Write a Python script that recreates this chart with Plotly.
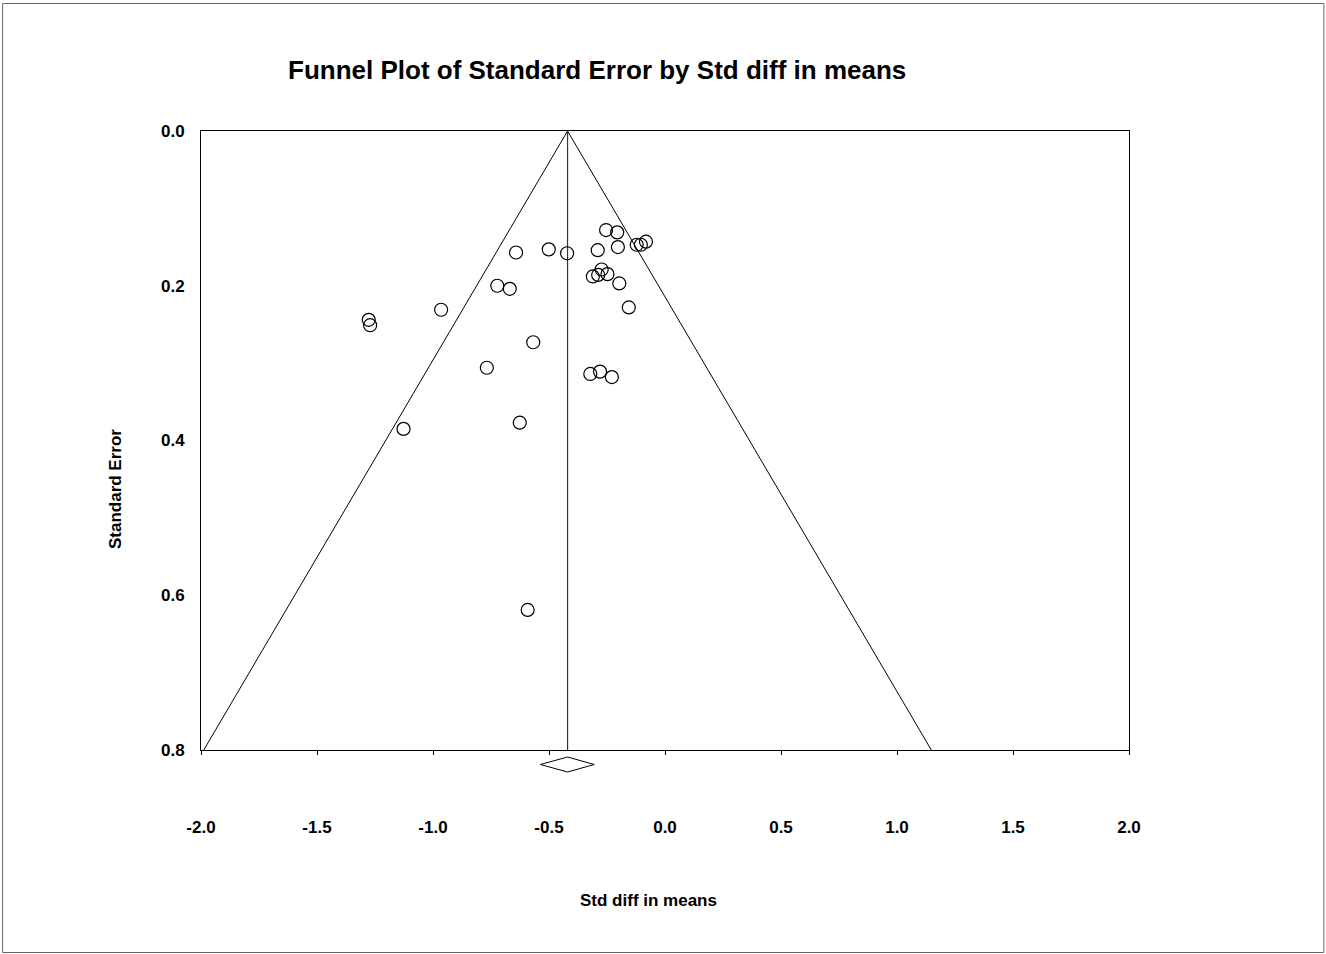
import plotly.graph_objects as go

# ---- data ----
std_diff = [-0.254, -0.206, -0.642, -0.501, -0.422, -0.290, -0.203, -0.122, -0.104, -0.082,
            -0.273, -0.311, -0.288, -0.248, -0.197, -0.723, -0.669, -0.156, -0.965, -1.277,
            -1.271, -0.568, -0.768, -0.322, -0.280, -0.229, -1.127, -0.626, -0.592]
std_err = [0.128, 0.131, 0.157, 0.153, 0.158, 0.154, 0.150, 0.147, 0.147, 0.143,
           0.179, 0.188, 0.186, 0.185, 0.197, 0.200, 0.204, 0.228, 0.231, 0.244,
           0.251, 0.273, 0.306, 0.314, 0.311, 0.318, 0.385, 0.377, 0.619]
pooled = -0.42
ci_low = -0.537
ci_high = -0.305
z = 1.96
se_max = 0.8
x_ticks = [-2.0, -1.5, -1.0, -0.5, 0.0, 0.5, 1.0, 1.5, 2.0]
y_ticks = [0.0, 0.2, 0.4, 0.6, 0.8]

W, H = 1326, 954
L, R, T, B = 201, 1129.5, 131, 750
pw, ph = R - L, B - T

def px2paper_x(px):
    return (px - L) / pw

def px2paper_y(py):
    return (B - py) / ph

FONT = "Liberation Sans, Arial, sans-serif"

fig = go.Figure()

# funnel lines
fig.add_trace(go.Scatter(
    x=[pooled - z * se_max, pooled, pooled + z * se_max],
    y=[se_max, 0, se_max],
    mode="lines", line=dict(color="black", width=1), hoverinfo="skip", showlegend=False))
# vertical pooled line
fig.add_trace(go.Scatter(
    x=[pooled, pooled], y=[0, se_max],
    mode="lines", line=dict(color="#333333", width=1.2), hoverinfo="skip", showlegend=False))
# studies
fig.add_trace(go.Scatter(
    x=std_diff, y=std_err, mode="markers",
    marker=dict(symbol="circle-open", size=13, color="black", line=dict(width=1.2, color="black")),
    showlegend=False))

# diamond below axis
dy0, dyc, dy1 = px2paper_y(757), px2paper_y(764.5), px2paper_y(772)
fig.add_shape(type="path", xref="x", yref="paper",
              path=f"M {ci_low} {dyc} L {pooled} {dy0} L {ci_high} {dyc} L {pooled} {dy1} Z",
              line=dict(color="black", width=1), fillcolor="rgba(0,0,0,0)")

# page border
fig.add_shape(type="rect", xref="paper", yref="paper",
              x0=px2paper_x(2.5), x1=px2paper_x(1324.5), y0=px2paper_y(952.5), y1=px2paper_y(3.5),
              line=dict(color="#666666", width=1))

fig.add_annotation(text="Funnel Plot of Standard Error by Std diff in means",
                   xref="paper", yref="paper", x=px2paper_x(597), y=px2paper_y(70),
                   xanchor="center", yanchor="middle", showarrow=False,
                   font=dict(family=FONT, size=26, color="black", weight="bold"))
fig.add_annotation(text="Standard Error", textangle=-90,
                   xref="paper", yref="paper", x=px2paper_x(115), y=px2paper_y(489),
                   xanchor="center", yanchor="middle", showarrow=False,
                   font=dict(family=FONT, size=17, color="black", weight="bold"))
fig.add_annotation(text="Std diff in means",
                   xref="paper", yref="paper", x=px2paper_x(649), y=px2paper_y(900),
                   xanchor="center", yanchor="middle", showarrow=False,
                   font=dict(family=FONT, size=17, color="black", weight="bold"))

fig.update_layout(
    width=W, height=H,
    margin=dict(l=L, r=W - R, t=T, b=H - B, pad=0),
    paper_bgcolor="white", plot_bgcolor="white",
    showlegend=False,
    xaxis=dict(range=[-2, 2], tickvals=x_ticks, ticktext=[f"{v:.1f}" for v in x_ticks],
               showgrid=False, zeroline=False, showline=True, mirror=True,
               linecolor="black", linewidth=1, ticks="outside", ticklen=4, tickcolor="black",
               ticklabelstandoff=58,
               tickfont=dict(family=FONT, size=17, color="black", weight="bold")),
    yaxis=dict(range=[0.8, 0], tickvals=y_ticks, ticktext=[f"{v:.1f}" for v in y_ticks],
               showgrid=False, zeroline=False, showline=True, mirror=True,
               linecolor="black", linewidth=1, ticks="",
               ticklabelstandoff=12,
               tickfont=dict(family=FONT, size=17, color="black", weight="bold")),
)

fig.write_html("out.html", config={"displayModeBar": False},
               post_script="document.body.style.margin='0';document.body.style.overflow='hidden';")
